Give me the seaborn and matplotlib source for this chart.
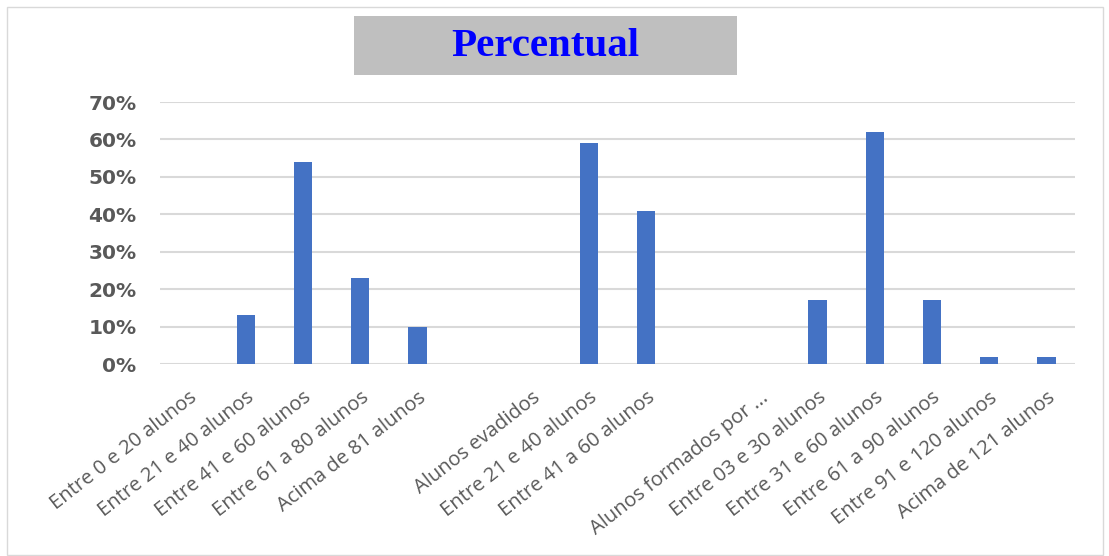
import matplotlib
matplotlib.use("Agg")
import matplotlib.pyplot as plt
from matplotlib.patches import Rectangle
from matplotlib.ticker import PercentFormatter
from matplotlib.transforms import ScaledTranslation
import seaborn as sns
import pandas as pd

# Category labels along the x axis (blank entries separate the three groups)
rotulos = [
    "Entre 0 e 20 alunos", "Entre 21 e 40 alunos", "Entre 41 e 60 alunos",
    "Entre 61 a 80 alunos", "Acima de 81 alunos", "",
    "Alunos evadidos", "Entre 21 e 40 alunos", "Entre 41 a 60 alunos", "",
    "Alunos formados por ...", "Entre 03 e 30 alunos", "Entre 31 e 60 alunos",
    "Entre 61 a 90 alunos", "Entre 91 e 120 alunos", "Acima de 121 alunos",
]
# Percentage for each category
percentuais = [0, 13, 54, 23, 10, 0, 0, 59, 41, 0, 0, 17, 62, 17, 2, 2]

sns.set_theme(style="white")

posicoes = [f"p{i:02d}" for i in range(len(rotulos))]
df = pd.DataFrame({"posicao": posicoes, "valor": [v / 100 for v in percentuais]})

fig = plt.figure(figsize=(11.09, 5.56), dpi=100)
ax = fig.add_axes([0.1443, 0.3453, 0.8250, 0.4712])

sns.barplot(data=df, x="posicao", y="valor", order=posicoes, color="#4472C4",
            width=0.32, saturation=1, linewidth=0, ax=ax)

ax.set_ylim(0, 0.70)
ax.set_yticks([i / 10 for i in range(8)])
ax.yaxis.set_major_formatter(PercentFormatter(1.0, decimals=0))
ax.grid(axis="y", color="#D9D9D9", linewidth=1.5)
ax.set_axisbelow(True)
for s in ax.spines.values():
    s.set_visible(False)
ax.set_xlabel("")
ax.set_ylabel("")
ax.tick_params(axis="both", length=0)
ax.tick_params(axis="y", pad=17)
ax.set_xticks(range(len(rotulos)))
ax.set_xticklabels(rotulos, rotation=38, ha="right", rotation_mode="anchor",
                   fontsize=14.5, color="#595959", family="Open Sans")
shift = ScaledTranslation(-4 / 100, 0, fig.dpi_scale_trans)
for t in ax.get_xticklabels():
    t.set_transform(t.get_transform() + shift)
for t in ax.get_yticklabels():
    t.set_fontsize(14.5)
    t.set_fontweight("bold")
    t.set_color("#595959")
    t.set_family("DejaVu Sans")
ax.tick_params(axis="x", pad=17)
ax.set_xlim(-0.5, len(rotulos) - 0.5)

# Outer frame of the chart area
W, H = 1109, 556
fig.patches.append(Rectangle((7 / W, 1 / H), 1096 / W, 548 / H, transform=fig.transFigure,
                             facecolor="none", edgecolor="#D9D9D9", linewidth=1))
# Title box
fig.patches.append(Rectangle((354 / W, 1 - 75 / H), 383 / W, 59 / H, transform=fig.transFigure,
                             facecolor="#BFBFBF", edgecolor="none"))
fig.text(545 / W, 1 - 46 / H, "Percentual", ha="center", va="center",
         fontsize=29.5, fontweight="bold", color="#0000FF", family="Liberation Serif")

fig.savefig("out.png", dpi=100)
